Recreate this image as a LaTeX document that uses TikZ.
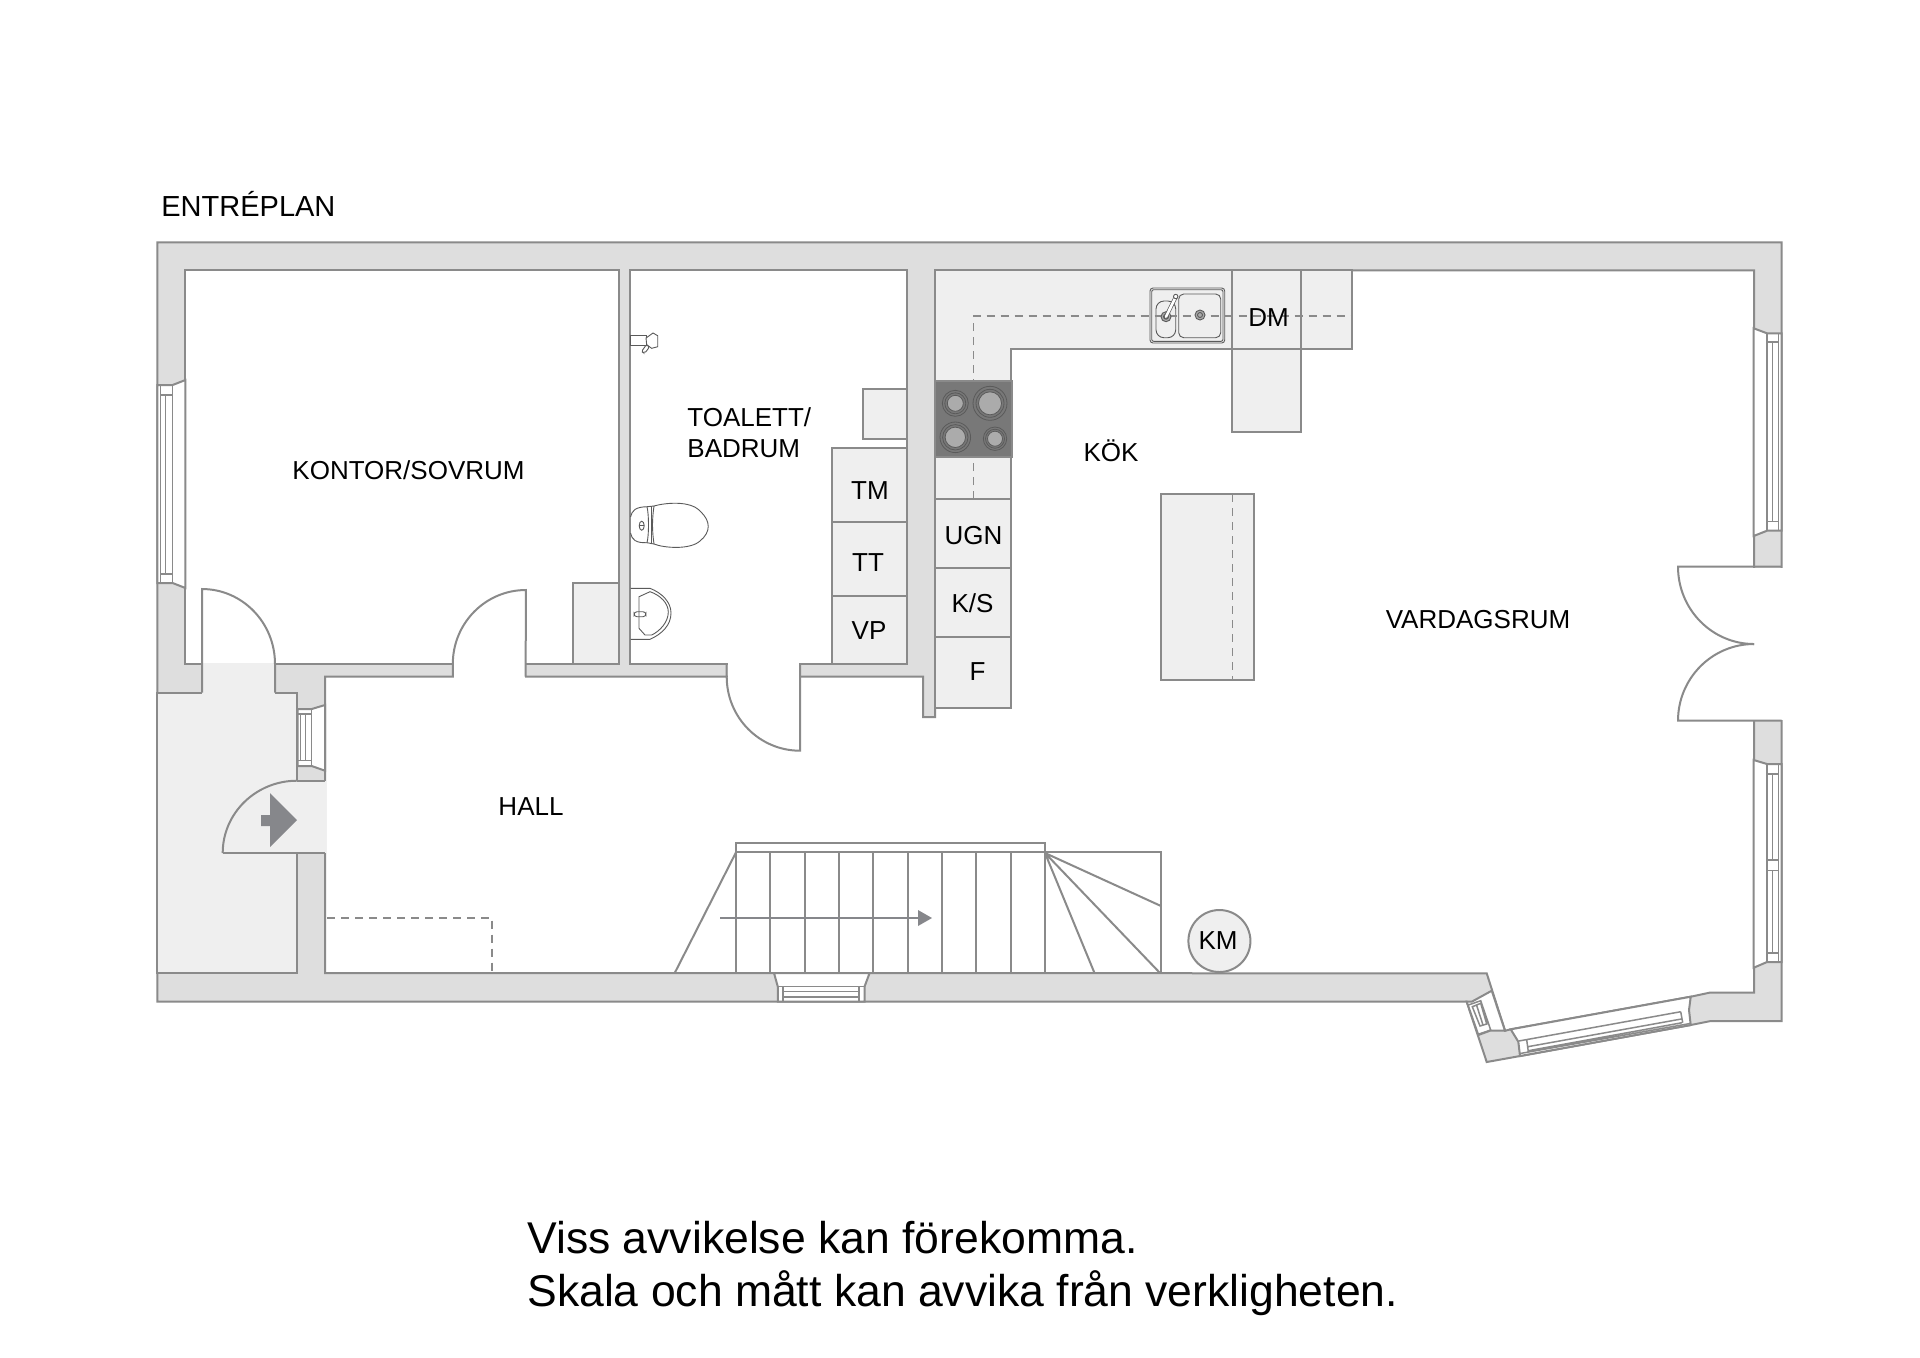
\documentclass[tikz,border=0pt]{standalone}
\usepackage{fontspec}
\setmainfont{Liberation Sans}
\definecolor{wallc}{HTML}{DEDEDE}
\definecolor{lightc}{HTML}{EFEFEF}
\definecolor{linec}{HTML}{8A8A8A}
\definecolor{fixc}{HTML}{5A5A5A}
\definecolor{hobc}{HTML}{787878}
\definecolor{hobin}{HTML}{ABABAB}
\definecolor{arrowc}{HTML}{86878B}
\tikzset{
  wall/.style={draw=linec,line width=1pt,fill=wallc,line join=miter},
  room/.style={draw=linec,line width=1pt,fill=white},
  lin/.style={draw=linec,line width=1pt},
  thinlin/.style={draw=linec,line width=.75pt},
  unitbox/.style={draw=linec,line width=1pt,fill=lightc},
  dashlin/.style={draw=linec,line width=.8pt,dash pattern=on 4pt off 3pt},
  fix/.style={draw=fixc,line width=.45pt},
  txt/.style={font=\fontsize{13}{16}\selectfont,text=black,inner sep=0pt},
  hobring/.style={draw=fixc,line width=.4pt}
}
\begin{document}
\begin{tikzpicture}[x=0.5pt,y=-0.5pt]
\useasboundingbox (0,0) rectangle (1920,1357);
\fill[white] (0,0) rectangle (1920,1357);
% outer wall
\draw[wall] (157.3,242.3) -- (1781.7,242.3) -- (1781.7,1021) -- (1710.7,1021) -- (1690.7,1025) -- (1520,1056) -- (1486.7,1062) -- (1466.7,1001.7) -- (157.3,1001.7) -- cycle;
% rooms
\draw[room] (185.4,270.3) rectangle (618.6,664);
\draw[room] (629.8,270.3) rectangle (907,664);
\draw[room] (325,973) -- (325,676.7) -- (923,676.7) -- (923,717) -- (935,717) -- (935,270.3) -- (1754,270.3) -- (1754,992.7) -- (1709.3,992.7) -- (1690.7,996.7) -- (1510.7,1029.3) -- (1505,1030.7) -- (1486.7,973.3) -- cycle;
% porch
\fill[lightc] (157.3,692.7) rectangle (297,973);
\fill[lightc] (202,663) rectangle (275,693);
\fill[lightc] (296,781) rectangle (326,853);
\draw[lin] (157.3,692.7) -- (202,692.7);
\draw[lin] (275,692.7) -- (297,692.7) -- (297,781);
\draw[lin] (297,781) -- (325,781);
\draw[lin] (222.7,853) -- (325,853);
\draw[lin] (297,853) -- (297,973) -- (157.3,973) -- (157.3,692);
\draw[lin] (325,781) -- (325,676.7);
\draw[lin] (325,853) -- (325,973);
% door gaps
\fill[white] (453.5,663) rectangle (525,678);
\fill[white] (727.5,663) rectangle (799.3,678);
\fill[white] (1754.7,567.5) rectangle (1784,720);
\fill[white] (1752,567.5) rectangle (1755.5,720);
% doors
\draw[lin] (275,692.7) -- (275,664) arc[start angle=0,end angle=-90,x radius=73,y radius=75] -- (202,692.7);
\draw[lin] (452.8,676.7) -- (452.8,664) arc[start angle=180,end angle=270,x radius=73,y radius=74] -- (525.7,676.7);
\draw[lin] (726.7,664) -- (726.7,676.7) arc[start angle=180,end angle=90,x radius=73.3,y radius=74] -- (800,664);
\draw[lin] (297,780.7) arc[start angle=270,end angle=180,x radius=74.3,y radius=72.3];
\draw[lin] (1781.7,566.7) -- (1678,566.7) arc[start angle=180,end angle=90,x radius=76,y radius=77.3];
\draw[lin] (1781.7,720.7) -- (1678,720.7) arc[start angle=180,end angle=270,x radius=76,y radius=76.7];
\draw[lin] (1754,540) -- (1754,566.7) (1754,720.7) -- (1754,750);
% entry arrow
\fill[arrowc] (297,820) -- (270,793) -- (270,815) -- (261,815) -- (261,826) -- (270,826) -- (270,847) -- cycle;
% windows: left
\draw[room] (157.3,385) -- (172.6,385) -- (185.4,380) -- (185.4,588) -- (172.6,583) -- (157.3,583) -- cycle;
\draw[thinlin] (160.4,385) -- (160.4,583) (165.5,395) -- (165.5,574) (172.6,385) -- (172.6,583) (160.4,395) -- (172.6,395) (160.4,574) -- (172.6,574);
% window: hall
\draw[room] (297.7,709) -- (311.7,709) -- (325,705) -- (325,770.7) -- (311.7,766) -- (297.7,766) -- cycle;
\draw[thinlin] (300.7,714) -- (300.7,760.7) (305.7,714) -- (305.7,760.7) (311.7,709) -- (311.7,766) (297.7,714) -- (311.7,714) (297.7,760.7) -- (311.7,760.7);
% windows: right upper
\draw[room] (1781.7,333.3) -- (1767,333.3) -- (1753.7,328.3) -- (1753.7,536) -- (1767,530.7) -- (1781.7,530.7) -- cycle;
\draw[thinlin] (1767,333.3) -- (1767,530.7) (1772.7,342) -- (1772.7,521.7) (1778.3,333.3) -- (1778.3,530.7) (1767,342) -- (1778.3,342) (1767,521.7) -- (1778.3,521.7);
% windows: right lower
\draw[room] (1781.7,764) -- (1767,764) -- (1753.7,760) -- (1753.7,967.7) -- (1767,962) -- (1781.7,962) -- cycle;
\draw[thinlin] (1767,764) -- (1767,962) (1772.7,774) -- (1772.7,860) (1772.7,870.7) -- (1772.7,953) (1778.3,764) -- (1778.3,962) (1767,774) -- (1778.3,774) (1767,860) -- (1778.3,860) (1767,870.7) -- (1778.3,870.7) (1767,953) -- (1778.3,953);
% window: bottom
\draw[room] (774,973) -- (869.6,973) -- (864.5,986.7) -- (864.5,1001.7) -- (777.8,1001.7) -- (777.8,986.7) -- cycle;
\draw[thinlin] (777.8,986.7) -- (864.5,986.7) (783,991.7) -- (859,991.7) (783,997) -- (859,997) (783,986.7) -- (783,1001.7) (859,986.7) -- (859,1001.7);
% window: wide angled
\draw[room] (1510.7,1029.3) -- (1690.7,996.7) -- (1689,1010) -- (1690.7,1025) -- (1520,1056) -- (1518.3,1041.7) -- cycle;
\draw[thinlin] (1518.7,1041) -- (1680.7,1011.7) (1527.7,1046.7) -- (1681.3,1019) (1528.3,1050.7) -- (1682,1022.7) (1520,1053.5) -- (1690,1023.5) (1680.7,1011.7) -- (1682.7,1022.7) (1526.7,1040) -- (1528.3,1051.7);
% window: small angled
\draw[room] (1491.7,990.7) -- (1505,1030.7) -- (1490,1030.7) -- (1478.3,1035) -- (1466.7,1001.7) -- (1471.7,1001.7) -- cycle;
\draw[thinlin] (1468.3,1005) -- (1480.7,1000.7) -- (1490.7,1030) -- (1479,1034) (1472.3,1006.7) -- (1480.7,1003.3) -- (1486.7,1024) -- (1480,1026) -- cycle (1476.5,1005) -- (1483,1025);
% kitchen counter
\draw[unitbox] (935,270.3) -- (1352,270.3) -- (1352,349) -- (1011.4,349) -- (1011.4,708) -- (935,708) -- cycle;
\draw[unitbox] (1232,349) rectangle (1300.7,432);
\draw[lin] (1232,270.3) -- (1232,349) (1300.7,270.3) -- (1300.7,349);
\draw[lin] (935,499) -- (1011.4,499) (935,567.7) -- (1011.4,567.7) (935,637) -- (1011.4,637);
% sink
\draw[fix,rounded corners=1.5pt] (1150,288) rectangle (1224.7,343);
\draw[fix,rounded corners=1pt] (1151.7,289.7) rectangle (1223,341.3);
\draw[fix,fill=lightc,rounded corners=4pt] (1156,301) rectangle (1175.7,337.7);
\draw[fix,fill=lightc,rounded corners=2.5pt] (1178.7,294) rectangle (1220.7,337.7);
% dashes
\draw[dashlin] (973.5,499) -- (973.5,316) -- (1352,316);
\draw[fix,fill=hobin] (1166,316.7) circle (5);
\draw[fix] (1166,316.7) circle (2.5);
\draw[fix,fill=hobin] (1200,315) circle (5);
\draw[fix] (1200,315) circle (2.5);
\draw[fixc,line width=2pt,line cap=round] (1166,316.7) -- (1175.7,297);
\draw[white,line width=1.3pt,line cap=round] (1166,316.7) -- (1175.7,297);
\draw[fix,fill=white] (1175.7,296.5) circle (2.2);
% hob
\draw[draw=linec,line width=.8pt,fill=hobc] (935.5,381) rectangle (1011.7,456.7);
\foreach \cx/\cy/\ro/\rm/\ri in {955.3/403.3/13/10.5/8, 990/403.3/17/14/11.5, 955.3/437.3/15.3/12.7/10.2, 995/438.7/11.7/9.5/7.5}{
  \draw[hobring] (\cx,\cy) circle (\ro);
  \draw[hobring] (\cx,\cy) circle (\rm);
  \draw[hobring,fill=hobin] (\cx,\cy) circle (\ri);
}
% island
\draw[unitbox] (1160.6,494) rectangle (1253.6,680);
\draw[dashlin] (1232.4,494) -- (1232.4,680);
% bath units
\draw[unitbox] (863,389) rectangle (907,439);
\draw[unitbox] (832,448) rectangle (907,522);
\draw[unitbox] (832,522) rectangle (907,595.7);
\draw[unitbox] (832,595.7) rectangle (907,664);
\draw[unitbox] (572.7,583) rectangle (618.6,664);
% shower
\draw[fix] (630.7,335.7) rectangle (646,345);
\draw[fix,fill=white] (646,338) -- (653,333) -- (657.7,335.7) -- (657.7,346.7) -- (651.7,348.3) -- (646.7,345) -- cycle;
\draw[fix,fill=white,rounded corners=1pt] (646.5,344.5) -- (649.5,347) -- (644.5,353.5) -- (641.5,351.5) -- cycle;
% toilet
\draw[fix] (630.5,517) .. controls (632,510) and (636,507) .. (647,506.7) .. controls (649,515) and (649,535) .. (647,542.7) .. controls (636,543) and (632,540) .. (630.5,533);
\draw[fix] (647,506.7) -- (654,506) (647,542.7) -- (654,544);
\draw[fix] (651.7,506.3) -- (651.7,544);
\draw[fix] (654,506) .. controls (664,503) and (690,500) .. (700,511) .. controls (711,521) and (711,532) .. (700,541) .. controls (690,550) and (664,548) .. (654,544) .. controls (652,530) and (652,520) .. (654,506);
\draw[fix] (641.7,525.7) ellipse (2.5 and 4.5);
\draw[fix] (639.2,525.7) -- (644.2,525.7);
% basin
\draw[fix] (630.7,588.3) -- (650,588.3) .. controls (662,593) and (671,602) .. (671,613) .. controls (671,625) and (662,634) .. (650,639.3) -- (630.7,639.3);
\draw[fix] (639,628.3) -- (639,596.7) -- (650,591.7) .. controls (660,595) and (668.3,603) .. (668.3,612) .. controls (668.3,622) and (660,631) .. (651.7,635) -- (645,635) -- cycle;
\draw[fix,rounded corners=1.5pt] (634,611.7) rectangle (646,616.7);
% stairs
\draw[lin] (736,842.7) rectangle (1045,852.3);
\foreach \i in {0,...,9}{ \draw[lin] ({736+\i*34.33},852.3) -- ({736+\i*34.33},973); }
\draw[lin] (736,852.3) -- (674.7,973);
\draw[lin] (1045,852.3) -- (1161,852.3) -- (1161,973);
\draw[lin] (1045,853) -- (1161,906) (1045,853) -- (1160,973) (1045,853) -- (1094.5,973);
\fill[arrowc] (932,918) -- (918,910) -- (918,926) -- cycle;
\draw[arrowc,line width=1pt] (720,918) -- (918,918);
% hall dashed
\draw[dashlin] (327,917.7) -- (492,917.7) -- (492,972);
% KM
\node[draw=linec,line width=1pt,fill=lightc,circle,minimum size=31pt,inner sep=0pt] (km) at (1219.4,941) {};
\node[txt] (kmt) at (1218,941) {KM};
\node[txt] (kontor) at (408.5,470) {KONTOR/SOVRUM};
\node[txt,anchor=west,align=left] (toalett) at (687,433) {TOALETT/\\[-.5pt]BADRUM};
\node[txt] (tm) at (870,491) {TM};
\node[txt] (tt) at (868,563) {TT};
\node[txt] (vp) at (869,631) {VP};
\node[txt] (kok) at (1111,451) {KÖK};
\node[txt] (vard) at (1478,619.5) {VARDAGSRUM};
\node[txt] (hall) at (531,807) {HALL};
\node[txt] (ugn) at (973.5,536) {UGN};
\node[txt] (ks) at (972.5,603) {K/S};
\node[txt] (f) at (977.5,672) {F};
\node[txt] (dm) at (1268.5,318) {DM};
\node[txt,font=\fontsize{14.5}{17}\selectfont,anchor=west] (plan) at (161,204) {ENTRÉPLAN};
\node[inner sep=0pt,anchor=west,align=left,font=\fontsize{22.25}{26.5}\selectfont] (note) at (527,1268) {Viss avvikelse kan förekomma.\\Skala och mått kan avvika från verkligheten.};
\end{tikzpicture}
\end{document}
